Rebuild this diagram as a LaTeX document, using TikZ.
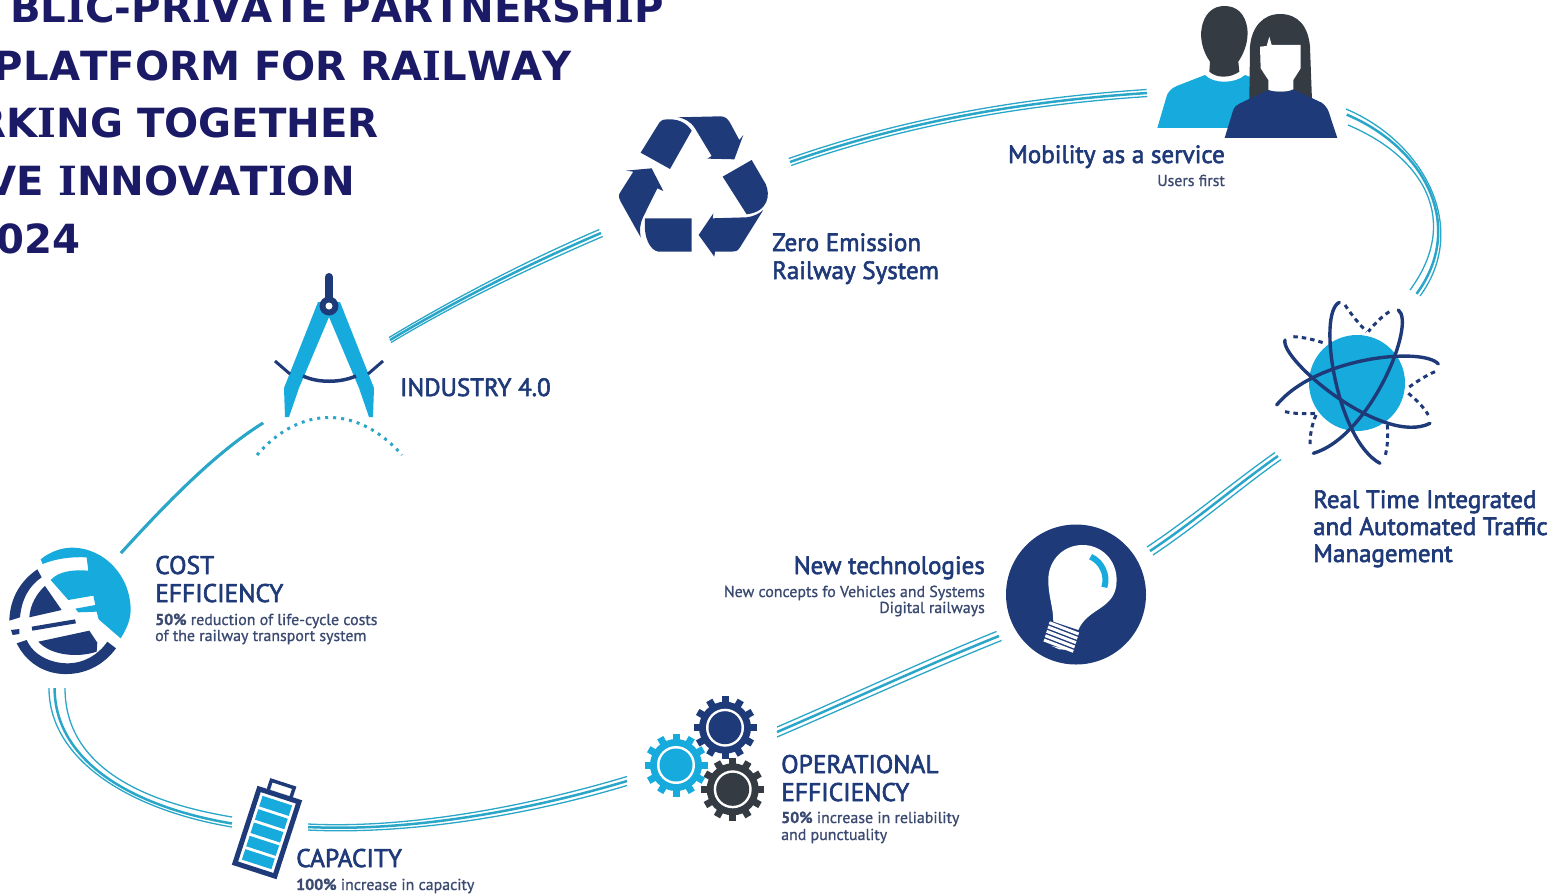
\documentclass[tikz,border=0pt]{standalone}
\usepackage{fontspec}
\setmainfont[Kerning=Off]{DejaVu Sans}
\newfontfamily\dinfont[FakeBold=2.4]{PT Sans}
\newfontfamily\dinlight[FakeBold=1]{PT Sans}
\newfontfamily\serifbar{DejaVu Serif}
\newcommand{\titleI}{{\serifbar\bfseries I}}
\definecolor{dnavy}{HTML}{1F3A78}
\definecolor{dcyan}{HTML}{17ABDD}
\definecolor{ddark}{HTML}{343B43}
\definecolor{dtitle}{HTML}{1B1A66}
\definecolor{dgrey}{HTML}{3B4A70}
\definecolor{drail}{HTML}{2AA6C8}
\tikzset{
  titleline/.style={font=\bfseries\fontsize{40.2}{40.2}\selectfont,text=dtitle,inner sep=0pt},
  headline/.style={font=\dinfont\fontsize{25}{25}\selectfont,text=dnavy,inner sep=0pt},
  headcaps/.style={headline,font=\dinfont\fontsize{25.5}{25.5}\selectfont},
  subline/.style={font=\dinlight\fontsize{15.9}{15.9}\selectfont,text=dgrey,inner sep=0pt},
  railstrand/.style={color=drail,line cap=butt},
  atomline/.style={color=dnavy,line width=3.4pt},
  atomdash/.style={color=dnavy,line width=3pt,line cap=butt,dash pattern=on 4.5pt off 4pt}
}
% three strands, the thick one at #9
\newcommand{\raillink}[9]{
  \foreach \s/\w in {-1/1.3,1/1.3,#9/2.5}
  \draw[railstrand,line width=\w pt] ([shift={(\s*#5,\s*#6)}]#1) .. controls +(#3) and +(#4) .. ([shift={(\s*#7,\s*#8)}]#2);
}
\newcommand{\railgear}[3]{
  \fill[color=#3] (#1,#2) circle (26);
  \foreach \a in {0,30,...,330}
  \draw[color=#3,line width=7pt,line cap=butt] (#1,#2) ++(\a:22) -- ++(\a:9.5);
  \fill[color=white] (#1,#2) circle (19);
  \fill[color=#3] (#1,#2) circle (16.5);
}
\begin{document}
\begin{tikzpicture}[line cap=round,line join=round,x=1pt,y=-1pt]
  \useasboundingbox (0,0) rectangle (1563,895);
  \clip (0,0) rectangle (1563,895);
  % title
  \draw (664,22) node (title1) [titleline,anchor=base east] {BL\titleI C-PR\titleI VATE PARTNERSH\titleI P};
  \draw (572,80) node (title2) [titleline,anchor=base east] {PLATFORM FOR RA\titleI LWAY};
  \draw (379,137) node (title3) [titleline,anchor=base east] {RK\titleI NG TOGETHER};
  \draw (355,195) node (title4) [titleline,anchor=base east] {VE \titleI NNOVAT\titleI ON};
  \draw (81,253) node (title5) [titleline,anchor=base east] {024};
  % ends of the rails
  \coordinate (compassout) at (390,340);
  \coordinate (recyclein) at (601,233);
  \coordinate (recycleout) at (790,162);
  \coordinate (peoplein) at (1147,93);
  \coordinate (peopleout) at (1347,117);
  \coordinate (atomin) at (1415,293);
  \coordinate (atomout) at (1278,456);
  \coordinate (bulbin) at (1150,551);
  \coordinate (bulbout) at (999,636);
  \coordinate (gearin) at (777,732);
  \coordinate (gearout) at (627,781);
  \coordinate (batteryin) at (308,827);
  \coordinate (batteryout) at (232,822);
  \coordinate (euroin) at (57,688);
  \coordinate (euroout) at (121,553);
  \coordinate (compassin) at (263,423);
  \raillink{compassout}{recyclein}{70,-42}{-70,30}{1}{2.5}{1.7}{3.5}{0}
  \raillink{recycleout}{peoplein}{120,-42}{-120,8}{1.2}{3.5}{0.4}{3.5}{0}
  \raillink{peopleout}{atomin}{78,33}{50,-68}{-1}{-8}{5}{3}{0.3}
  \raillink{atomout}{bulbin}{-40,28}{45,-30}{3}{3.5}{3}{4}{0}
  \raillink{bulbout}{gearin}{-70,28}{70,-30}{2.5}{4.5}{0}{5}{0}
  \raillink{gearout}{batteryin}{-100,30}{100,5}{0}{4.5}{0}{3}{0}
  \raillink{batteryout}{euroin}{-102,-17}{0,72}{0}{5}{-8}{0}{0.3}
  \raillink{euroout}{compassin}{50,-55}{-45,28}{0.6}{0.6}{0.6}{0.6}{0}
  % compass
  \fill[color=dcyan] (318,302) -- (284,388) -- (285,417) -- (289,417) -- (299,388) -- (329,317) -- (359,388) -- (369,417) -- (373,417) -- (374,388) -- (340,302) -- cycle;
  \draw[color=dnavy,line width=8pt] (329,277) -- (329,305);
  \fill[color=dnavy] (329,306) circle (9.5);
  \fill[color=white] (329,306) circle (3.5);
  \draw[color=dnavy,line width=3.5pt,line cap=butt] (303,376) .. controls (318,383) and (340,383) .. (356,376);
  \draw[color=dnavy,line width=3pt,line cap=butt] (275,361) -- (290,374);
  \draw[color=dnavy,line width=3pt,line cap=butt] (383,361) -- (368,374);
  \draw[color=drail,line width=3pt,line cap=butt,dash pattern=on 3pt off 5pt] (257,455) .. controls (300,405) and (358,405) .. (402,455);
  \draw (400,396) node (industrytext) [headline,anchor=base west] {INDUSTRY 4.0};
  % recycle
  \begin{scope}[shift={(600,0)},scale=0.3333,color=dnavy]
    \fill (122,458) -- (178,368) .. controls (185,358) and (195,358) .. (210,358) .. controls (240,358) and (262,372) .. (275,392) -- (210,507) -- cycle;
    \fill (232,352) -- (360,349) .. controls (375,349) and (382,355) .. (390,368) -- (418,420) -- (430,405) -- (403,478) -- (322,476) -- (335,468) -- (285,385) .. controls (272,365) and (255,355) .. (232,352) -- cycle;
    \fill (368,530) -- (455,480) -- (497,552) .. controls (512,585) and (505,635) .. (440,643) -- cycle;
    \fill (490,630) -- (420,742) .. controls (412,755) and (405,755) .. (395,755) -- (345,755) -- (343,770) -- (296,705) -- (340,640) -- (338,655) -- (440,652) .. controls (460,650) and (480,640) .. (490,630) -- cycle;
    \fill (135,655) -- (275,655) -- (275,755) -- (175,755) .. controls (150,750) and (130,715) .. (135,655) -- cycle;
    \fill (122,712) -- (62,605) .. controls (55,590) and (55,585) .. (62,575) -- (100,515) -- (78,512) -- (155,505) -- (190,573) -- (172,565) -- (130,650) .. controls (120,670) and (118,690) .. (122,712) -- cycle;
  \end{scope}
  \draw (772,251) node (zerotext1) [headline,anchor=base west] {Zero Emission};
  \draw (772,279) node (zerotext2) [headline,anchor=base west] {Railway System};
  % people
  \begin{scope}[shift={(1130,0)},scale=0.3333]
    \fill[color=dcyan] (82,384) -- (108,295) .. controls (112,275) and (125,265) .. (140,258) -- (225,225) .. controls (250,252) and (315,252) .. (345,225) -- (410,250) -- (410,384) -- cycle;
    \fill[color=ddark] (238,215) -- (240,185) .. controls (215,150) and (210,110) .. (215,85) .. controls (222,40) and (250,18) .. (283,18) .. controls (320,18) and (345,40) .. (352,85) .. controls (356,120) and (345,155) .. (325,185) -- (328,215) .. controls (300,235) and (260,235) .. (238,215) -- cycle;
    \fill[color=ddark] (358,300) -- (360,140) .. controls (365,80) and (400,42) .. (450,42) .. controls (505,42) and (535,80) .. (540,140) -- (546,300) -- cycle;
    \fill[color=white] (390,140) -- (410,138) -- (418,110) -- (425,135) -- (512,135) -- (512,205) -- (490,240) -- (490,275) -- (415,275) -- (415,240) -- (392,205) -- cycle;
    \fill[color=dnavy] (284,414) -- (308,335) .. controls (312,320) and (320,315) .. (330,310) -- (415,270) .. controls (440,278) and (470,278) .. (490,268) -- (575,308) .. controls (585,315) and (592,325) .. (596,335) -- (622,414) -- cycle;
  \end{scope}
  \draw (1225,163) node (mobilitytext) [headline,anchor=base east] {Mobility as a service};
  \draw (1225,186) node (userstext) [subline,anchor=base east] {Users first};
  % atom
  \fill[color=dcyan] (1357,383) circle (48);
  \begin{scope}[shift={(1130,290)},scale=0.3333]
    \draw[atomline] (628,37) .. controls (560,70) and (620,450) .. (750,520);
    \draw[atomline] (805,60) .. controls (860,100) and (720,440) .. (550,490);
    \draw[atomline] (925,222) .. controls (880,170) and (560,200) .. (440,345);
    \draw[atomline] (465,150) .. controls (450,210) and (760,470) .. (900,400);
    \draw[atomdash] (645,45) .. controls (665,75) and (690,105) .. (710,125);
    \draw[atomdash] (772,405) .. controls (775,440) and (772,475) .. (765,500);
    \draw[atomdash] (558,375) .. controls (545,405) and (540,435) .. (540,465);
    \draw[atomdash] (778,65) .. controls (755,80) and (735,100) .. (715,125);
    \draw[atomdash] (465,365) .. controls (495,372) and (530,372) .. (560,370);
    \draw[atomdash] (915,245) .. controls (885,258) and (860,275) .. (835,293);
    \draw[atomdash] (490,140) .. controls (525,142) and (555,150) .. (585,160);
    \draw[atomdash] (835,310) .. controls (860,330) and (880,350) .. (895,375);
  \end{scope}
  \draw (1313,508) node (traffictext1) [headline,anchor=base west] {Real Time Integrated};
  \draw (1313,535) node (traffictext2) [headline,anchor=base west] {and Automated Traffic};
  \draw (1313,562) node (traffictext3) [headline,anchor=base west] {Management};
  % bulb
  \fill[color=dnavy] (1076,594.5) circle (70);
  \begin{scope}[shift={(700,510)},scale=0.3333]
    \fill[color=white] (1060,335) .. controls (1060,290) and (1045,260) .. (1045,210) .. controls (1045,150) and (1090,105) .. (1148,105) .. controls (1205,105) and (1250,150) .. (1250,210) .. controls (1250,300) and (1165,290) .. (1135,360) -- cycle;
    \draw[color=dcyan,line width=6pt,line cap=butt] (1172,140) .. controls (1205,155) and (1225,195) .. (1213,232);
    \foreach \i in {0,...,4}
    \draw[color=white,line width=3pt,line cap=butt] (1048-4*\i,338+13*\i) -- (1136-4*\i,372+13*\i);
    \fill[color=white] (1055,408) -- (1110,420) -- (1078,418) -- cycle;
  \end{scope}
  \draw (985,574) node (newtext) [headline,anchor=base east] {New technologies};
  \draw (985,597) node (newsub1) [subline,anchor=base east] {New concepts fo Vehicles and Systems};
  \draw (985,613) node (newsub2) [subline,anchor=base east] {Digital railways};
  % gears
  \railgear{725}{727.7}{dnavy}
  \railgear{676}{765}{dcyan}
  \railgear{732.7}{789.3}{ddark}
  \draw (781,773) node (opertext1) [headcaps,anchor=base west] {OPERATIONAL};
  \draw (781,801) node (opertext2) [headcaps,anchor=base west] {EFFICIENCY};
  \draw (781,823) node (opersub1) [subline,anchor=base west] {\textbf{50\%} increase in reliability};
  \draw (781,840) node (opersub2) [subline,anchor=base west] {and punctuality};
  % battery
  \begin{scope}[shift={(267,832.5)},rotate=-18]
    \draw[color=dnavy,line width=3.5pt,line join=miter] (-12,-40) rectangle (12,-51);
    \fill[color=white] (-10,-38) rectangle (10,-42);
    \draw[color=dnavy,line width=5pt,line join=miter,fill=white] (-21,-39) rectangle (21,39);
    \foreach \i in {0,...,4}
    \fill[color=dcyan] (-15.5,-33.5+14*\i) rectangle (15.5,-22.5+14*\i);
  \end{scope}
  \draw (296,867) node (capacitytext) [headcaps,anchor=base west] {CAPACITY};
  \draw (296,890) node (capacitysub) [subline,anchor=base west] {\textbf{100\%} increase in capacity};
  % euro
  \begin{scope}[shift={(0,530)},scale=0.3333]
    \fill[color=dcyan] (122,88) .. controls (150,65) and (185,53) .. (215,53) .. controls (315,53) and (392,140) .. (392,240) .. controls (392,270) and (378,300) .. (362,325) -- (296,268) -- (290,245) -- (235,247) -- (226,236) -- (286,225) -- (280,197) -- (205,210) -- (152,150) .. controls (175,125) and (215,118) .. (265,122) -- (260,82) .. controls (215,80) and (170,85) .. (128,102) -- cycle;
    \fill[color=dnavy] (112,118) .. controls (65,150) and (30,200) .. (28,272) -- (60,262) .. controls (65,205) and (90,165) .. (125,142) -- cycle;
    \fill[color=dnavy] (33,300) -- (58,297) -- (58,312) -- (38,315) -- cycle;
    \fill[color=dnavy] (50,340) .. controls (85,410) and (150,435) .. (205,432) .. controls (265,430) and (315,400) .. (348,355) -- (322,335) .. controls (295,375) and (250,400) .. (205,400) .. controls (150,400) and (100,375) .. (80,330) -- cycle;
    \fill[color=dnavy] (88,262) .. controls (90,225) and (110,190) .. (135,168) -- (185,240) -- cycle;
    \fill[color=dnavy] (95,290) -- (225,268) -- (228,280) -- (97,302) -- cycle;
    \fill[color=dnavy] (115,335) -- (268,302) -- (292,338) -- (290,365) .. controls (230,385) and (150,375) .. (115,335) -- cycle;
  \end{scope}
  \draw (155,574) node (costtext1) [headcaps,anchor=base west] {COST};
  \draw (155,602) node (costtext2) [headcaps,anchor=base west] {EFFICIENCY};
  \draw (155,625) node (costsub1) [subline,anchor=base west] {\textbf{50\%} reduction of life-cycle costs};
  \draw (155,641) node (costsub2) [subline,anchor=base west] {of the railway transport system};
\end{tikzpicture}
\end{document}
